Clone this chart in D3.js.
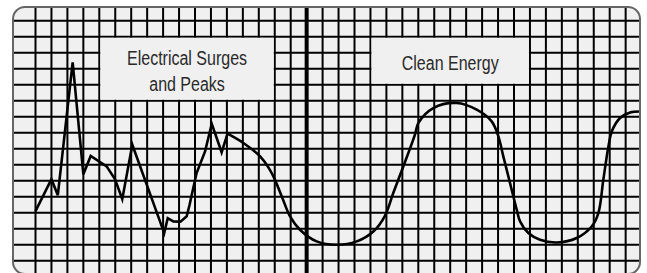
<!DOCTYPE html>
<meta charset="utf-8">
<html>
<body style="margin:0; background-color: white;">
<script src="https://d3js.org/d3.v7.min.js"></script>
<div id="my_dataviz"></div>
<script>
// grid units: x = column index, y = row value (0 at bottom grid line)
var surgeX = [0, 1, 1.4, 2.33, 3.0, 3.46, 4.46, 4.98, 5.44, 6.07, 8.07, 8.29, 8.64, 9.09, 9.48, 9.66, 10.1, 10.63, 11.05, 11.67, 12.04];
var surgeY = [3.1, 5.1, 4.1, 12.4, 5.4, 6.55, 5.9, 5.1, 3.85, 7.25, 1.73, 2.66, 2.46, 2.44, 2.78, 3.5, 5.48, 6.83, 8.56, 6.78, 7.94];

var cleanX = [12.04, 13.03, 14.08, 14.81, 15.44, 15.96, 16.58, 17.63, 18.88, 20.14, 21.18, 21.91, 22.43, 23.06, 23.79, 24.0, 24.94, 26.41, 27.66, 28.6, 29.02, 29.33, 29.75, 30.17, 30.38, 30.9, 31.63, 32.68, 33.93, 34.87, 35.29, 35.6, 35.92, 36.13, 36.65, 37.28, 37.91];
var cleanY = [7.94, 7.36, 6.52, 5.48, 4.02, 2.77, 1.94, 1.21, 1.0, 1.21, 1.83, 2.81, 4.23, 5.89, 7.88, 8.6, 9.54, 9.86, 9.44, 8.71, 7.77, 6.52, 4.86, 3.19, 2.46, 1.73, 1.31, 1.14, 1.42, 2.14, 2.98, 5.06, 7.14, 8.08, 8.92, 9.27, 9.33];

var labelText = [["Electrical Surges", "and Peaks"], ["Clean Energy"]];
var labelCols = [[4, 15], [21, 31]];
var labelRows = [[14, 10], [14, 11]];

var dividerCol = 17;

var width = 647, height = 273;
var bg = "#f0f0f0";

var svg = d3.select("#my_dataviz")
  .append("svg")
    .attr("width", width)
    .attr("height", height)
    .style("display", "block");

var x = d3.scaleLinear().domain([0, 37]).range([35.5, 625.65]);
var y = d3.scaleLinear().domain([0, 15]).range([260.75, 20.75]);

// frame
var frame = {x: 13, y: 7, w: 627, h: 267, r: 12};
svg.append("clipPath").attr("id", "clip")
  .append("rect")
    .attr("x", frame.x).attr("y", frame.y)
    .attr("width", frame.w).attr("height", frame.h)
    .attr("rx", frame.r);

svg.append("rect")
  .attr("x", frame.x).attr("y", frame.y)
  .attr("width", frame.w).attr("height", frame.h)
  .attr("rx", frame.r)
  .attr("fill", bg);

var g = svg.append("g").attr("clip-path", "url(#clip)");

// grid
g.selectAll(".vline")
  .data(d3.range(0, 38))
  .enter()
  .append("line")
    .attr("x1", function(d){ return x(d); })
    .attr("x2", function(d){ return x(d); })
    .attr("y1", 0).attr("y2", height)
    .attr("stroke", "black")
    .attr("stroke-width", function(d){ return d == dividerCol ? 4 : 2; });

g.selectAll(".hline")
  .data(d3.range(0, 16))
  .enter()
  .append("line")
    .attr("x1", 0).attr("x2", width)
    .attr("y1", function(d){ return y(d); })
    .attr("y2", function(d){ return y(d); })
    .attr("stroke", "black")
    .attr("stroke-width", 2);

// label boxes
labelText.forEach(function(lines, i) {
  var x0 = x(labelCols[i][0]) + 1, x1 = x(labelCols[i][1]) - 1;
  var y0 = y(labelRows[i][0]) + 1, y1 = y(labelRows[i][1]) - 1;
  g.append("rect")
    .attr("x", x0).attr("y", y0)
    .attr("width", x1 - x0).attr("height", y1 - y0)
    .attr("fill", bg);
  var cx = (x0 + x1) / 2, cy = (y0 + y1) / 2;
  var lh = 25.5;
  lines.forEach(function(t, j) {
    var by = cy + 9 + (j - (lines.length - 1) / 2) * lh;
    g.append("text")
      .attr("transform", "translate(" + cx + "," + by + ") scale(0.8,1)")
      .attr("text-anchor", "middle")
      .attr("font-family", "'Liberation Sans', Arial, sans-serif")
      .attr("font-size", "20px")
      .attr("fill", "#2a2a2a")
      .text(t);
  });
});

// the line
var surge = surgeX.map(function(d, i){ return [d, surgeY[i]]; });
var clean = cleanX.map(function(d, i){ return [d, cleanY[i]]; });

g.append("path")
  .datum(surge)
  .attr("d", d3.line()
    .x(function(d){ return x(d[0]); })
    .y(function(d){ return y(d[1]); }))
  .attr("fill", "none")
  .attr("stroke", "black")
  .attr("stroke-width", 2.6)
  .attr("stroke-linejoin", "miter");

g.append("path")
  .datum(clean)
  .attr("d", d3.line()
    .curve(d3.curveCatmullRom.alpha(0.5))
    .x(function(d){ return x(d[0]); })
    .y(function(d){ return y(d[1]); }))
  .attr("fill", "none")
  .attr("stroke", "black")
  .attr("stroke-width", 2.6);

// frame outline
svg.append("rect")
  .attr("x", frame.x).attr("y", frame.y)
  .attr("width", frame.w).attr("height", frame.h)
  .attr("rx", frame.r)
  .attr("fill", "none")
  .attr("stroke", "#666")
  .attr("stroke-width", 2);
</script>
</body>
</html>
